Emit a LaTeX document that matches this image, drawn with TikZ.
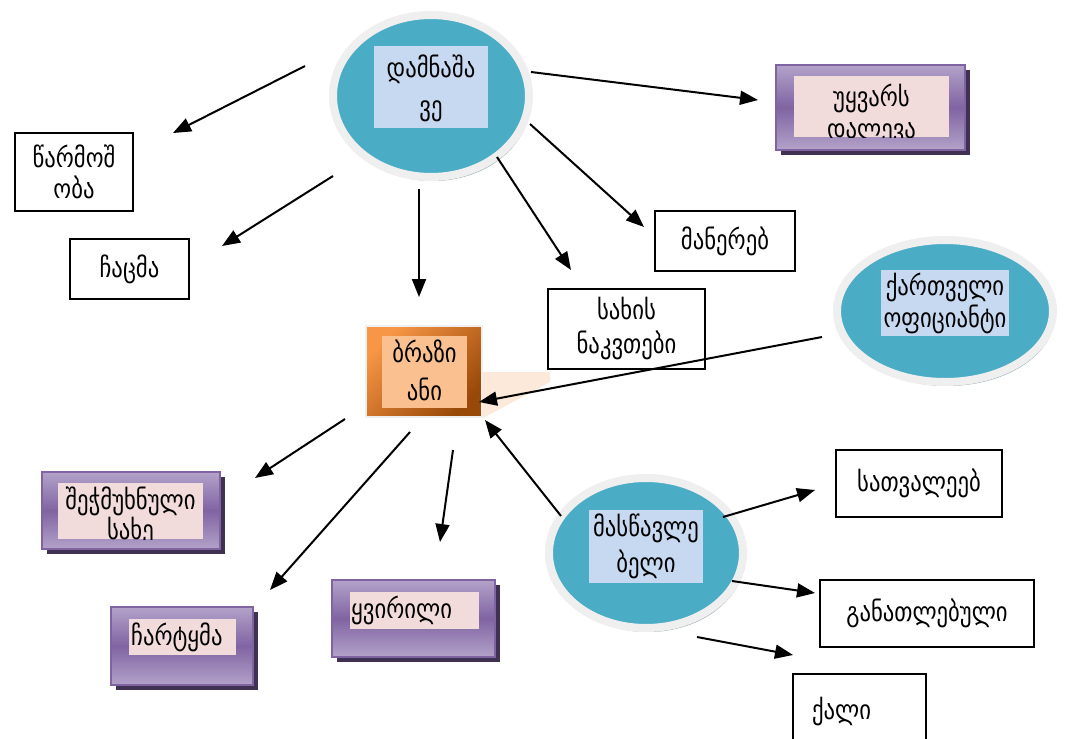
\documentclass[tikz,border=0pt]{standalone}
\usepackage{fontspec}
\newfontfamily\geo[FakeStretch=0.84]{DejaVu Sans}
\usetikzlibrary{arrows.meta,shapes.geometric,shadows}
\definecolor{tealc}{HTML}{4BACC6}
\definecolor{rimc}{HTML}{EFEFEF}
\definecolor{ellshadow}{HTML}{8FA6AF}
\definecolor{lblue}{HTML}{C6D9F0}
\definecolor{pinkc}{HTML}{F2DCDB}
\definecolor{purlight}{HTML}{B3A2C9}
\definecolor{purdark}{HTML}{8064A2}
\definecolor{purshadow}{HTML}{403152}
\definecolor{orlight}{HTML}{F79646}
\definecolor{ordark}{HTML}{984807}
\definecolor{orinner}{HTML}{FAC090}
\definecolor{orpale}{HTML}{FDE9D9}
\newcommand{\gfont}[1]{\geo\fontsize{27}{#1}\selectfont}
\tikzset{
  gtext/.style={font=\gfont{32}, align=center, inner sep=0pt},
  plainbox/.style={draw=black, line width=1.8pt, fill=white, inner sep=0pt, font=\gfont{31}, align=center},
  ellnode/.style={ellipse, fill=tealc, draw=rimc, line width=8pt, inner sep=0pt,
     drop shadow={shadow xshift=2pt, shadow yshift=-4pt, fill=ellshadow, opacity=1}},
  bluerect/.style={fill=lblue, inner sep=0pt},
  purbox/.style={draw=purdark, line width=1.5pt, top color=purlight, bottom color=purlight, middle color=purdark, inner sep=0pt,
     drop shadow={shadow xshift=5pt, shadow yshift=-5pt, fill=purshadow, opacity=1}},
  pinkrect/.style={fill=pinkc, inner sep=0pt},
  arr/.style={line width=2pt, -{Triangle[length=18pt,width=14pt]}}
}
\begin{document}
\begin{tikzpicture}[x=1pt,y=-1pt]
\useasboundingbox[fill=white] (0,0) rectangle (1066,739);
% ---- criminal ellipse
\node[ellnode, minimum width=196pt, minimum height=162pt] (crim) at (431,96) {};
\node[bluerect, minimum width=114pt, minimum height=82pt] (crimr) at (431,87) {};
\node[gtext, font=\gfont{38}] (crimt) at (431,88) {დამნაშა\\ვე};
% ---- waiter ellipse
\node[ellnode, minimum width=216pt, minimum height=142pt] (ofic) at (945,311) {};
\node[bluerect, minimum width=128pt, minimum height=66pt] (oficr) at (945,303) {};
\node[gtext] (ofict) at (945,303) {ქართველი\\ოფიციანტი};
% ---- teacher ellipse
\node[ellnode, minimum width=194pt, minimum height=150pt] (mas) at (646,553) {};
\node[bluerect, minimum width=114pt, minimum height=73pt] (masr) at (646,546.5) {};
\node[gtext, font=\gfont{36}] (mast) at (646,546) {მასწავლე\\ბელი};
% ---- angry box
\fill[orpale] (483,372) -- (550,372) -- (550,382) -- (483,418) -- cycle;
\node[draw=rimc, line width=2pt, top color=orlight, bottom color=ordark, shading angle=45, minimum width=116pt, minimum height=91pt, inner sep=0pt] (braz) at (424,371.5) {};
\node[fill=orinner, minimum width=85pt, minimum height=72pt, inner sep=0pt] (brazr) at (424.5,372) {};
\node[gtext, font=\gfont{38}] (brazt) at (424.5,370) {ბრაზი\\ანი};
% ---- plain boxes
\node[plainbox, minimum width=118pt, minimum height=78pt] (wa) at (74,172) {წარმოშ\\ობა};
\node[plainbox, minimum width=119pt, minimum height=60pt] (chac) at (129.5,269) {ჩაცმა};
\node[plainbox, minimum width=140pt, minimum height=60pt] (maner) at (725,241) {მანერებ};
\node[plainbox, minimum width=157pt, minimum height=80pt, font=\gfont{34}] (sakh) at (626.5,329) {სახის\\ნაკვთები};
\node[plainbox, minimum width=166pt, minimum height=67pt] (satv) at (919,483.5) {სათვალეებ};
\node[plainbox, minimum width=214pt, minimum height=67pt] (gana) at (927,613.5) {განათლებული};
\node[plainbox, minimum width=133pt, minimum height=76pt, text width=95pt, align=left] (kali) at (859.5,712) {ქალი};
% ---- purple boxes
\node[purbox, minimum width=189pt, minimum height=85pt] (uyv) at (870.5,107.5) {};
\node[pinkrect, minimum width=155pt, minimum height=61pt] (uyvr) at (871.5,106.5) {};
\begin{scope}
\clip (uyvr.south west) rectangle (uyvr.north east);
\node[gtext] (uyvt) at (871.5,114) {უყვარს\\დალევა};
\end{scope}
\node[purbox, minimum width=178pt, minimum height=77pt] (shech) at (131,510.5) {};
\node[pinkrect, minimum width=145pt, minimum height=56pt] (shechr) at (130.5,511) {};
\begin{scope}
\clip (shechr.south west) rectangle (shechr.north east);
\node[gtext, font=\gfont{30}] (shecht) at (130.5,516) {შეჭმუხნული\\სახე};
\end{scope}
\node[purbox, minimum width=142pt, minimum height=78pt] (chart) at (182,646) {};
\node[pinkrect, minimum width=107pt, minimum height=36pt] (chartr) at (182.5,637) {};
\node[gtext, anchor=west] (chartt) at (131,637) {ჩარტყმა};
\node[purbox, minimum width=163pt, minimum height=77pt] (qvir) at (413.5,618.5) {};
\node[pinkrect, minimum width=129pt, minimum height=37pt] (qvirr) at (414.5,610.5) {};
\node[gtext, anchor=west] (qvirt) at (351,610.5) {ყვირილი};
% ---- arrow end points
\coordinate (s1) at (305,66);  \coordinate (e1) at (173,133);
\coordinate (s2) at (333,176); \coordinate (e2) at (222,246);
\coordinate (s3) at (419,189); \coordinate (e3) at (419,297);
\coordinate (s4) at (497,157); \coordinate (e4) at (571,270);
\coordinate (s5) at (530,124); \coordinate (e5) at (644,227);
\coordinate (s6) at (531,72);  \coordinate (e6) at (758,100);
\coordinate (s7) at (822,337); \coordinate (e7) at (479,402);
\coordinate (s8) at (561,516); \coordinate (e8) at (485,420);
\coordinate (s9) at (345,419); \coordinate (e9) at (255,478);
\coordinate (s10) at (410,432); \coordinate (e10) at (270,590);
\coordinate (s11) at (453,450); \coordinate (e11) at (440,542);
\coordinate (s12) at (723,517); \coordinate (e12) at (815,490);
\coordinate (s13) at (732,581); \coordinate (e13) at (815,593);
\coordinate (s14) at (697,637); \coordinate (e14) at (793,655);
\foreach \i in {1,...,14} { \draw[arr] (s\i) -- (e\i); }
\end{tikzpicture}
\end{document}
